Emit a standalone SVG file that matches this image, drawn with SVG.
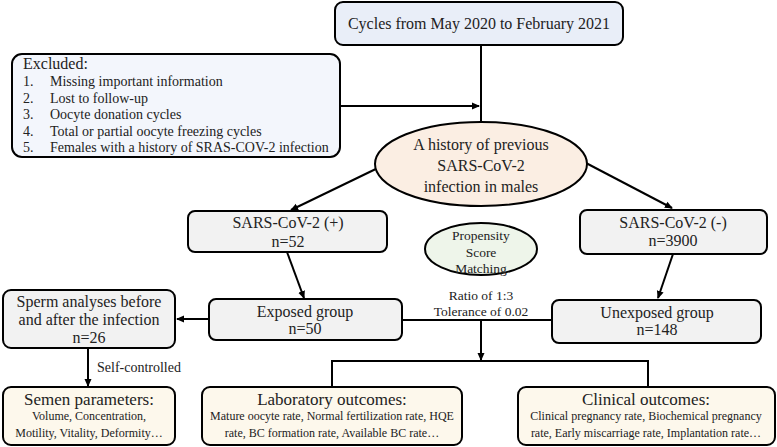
<svg xmlns="http://www.w3.org/2000/svg" width="777" height="447" viewBox="0 0 777 447">
<defs>
<marker id="ah" markerWidth="8" markerHeight="8" refX="7" refY="4" orient="auto" markerUnits="userSpaceOnUse">
<path d="M0,0.5 L8,4 L0,7.5 Z" fill="#000"/>
</marker>
</defs>
<style>
text{fill:#222;}
.c{text-anchor:middle;}
.box{stroke:#000;stroke-width:2;}
.blue{fill:#e9eef8;}
.lblue{fill:#f3f6fc;}
.grey{fill:#f2f2f2;}
.cream{fill:#fdf8ec;}
.f16{font-size:16px;}
.f14{font-size:14px;}
.f13{font-size:13.5px;}
.f12{font-size:12px;}
.f17{font-size:17px;}
.ln{stroke:#000;stroke-width:2;fill:none;}
</style>
<g font-family="'Liberation Serif', 'DejaVu Serif', serif">
<g id="connectors">
<path class="ln" d="M481,45 V122"/>
<path class="ln" d="M340,106 H479" marker-end="url(#ah)"/>
<path class="ln" d="M382,166 L291,210" marker-end="url(#ah)"/>
<path class="ln" d="M586,163 L672,208" marker-end="url(#ah)"/>
<path class="ln" d="M287,252 L304,298" marker-end="url(#ah)"/>
<path class="ln" d="M673,254 L658,298" marker-end="url(#ah)"/>
<path class="ln" d="M402,320 H552"/>
<path class="ln" d="M209,319 H177" marker-end="url(#ah)"/>
<path class="ln" d="M481,320 V360" marker-end="url(#ah)"/>
<path class="ln" d="M332,387 V361 H648 V387"/>
<path class="ln" d="M88,348 V386" marker-end="url(#ah)"/>
</g>
<g id="cycles">
<rect class="box blue" x="335" y="2" width="288" height="43" rx="8"/>
<text class="c f16" x="479" y="29">Cycles from May 2020 to February 2021</text>
</g>
<g id="excluded">
<rect class="box lblue" x="12" y="54" width="328" height="103" rx="10"/>
<text class="f16" x="23" y="69">Excluded:</text>
<text class="f14" x="23" y="86">1.</text><text class="f14" x="50" y="86">Missing important information</text>
<text class="f14" x="23" y="102.5">2.</text><text class="f14" x="50" y="102.5">Lost to follow-up</text>
<text class="f14" x="23" y="119">3.</text><text class="f14" x="50" y="119">Oocyte donation cycles</text>
<text class="f14" x="23" y="135.5">4.</text><text class="f14" x="50" y="135.5">Total or partial oocyte freezing cycles</text>
<text class="f14" x="23" y="152">5.</text><text class="f14" x="50" y="152">Females with a history of SRAS-COV-2 infection</text>
</g>
<g id="history">
<ellipse class="box" cx="481" cy="164" rx="106" ry="42" fill="#fbeee3"/>
<text class="c f16" x="481" y="150">A history of previous</text>
<text class="c f16" x="481" y="171">SARS-CoV-2</text>
<text class="c f16" x="481" y="192">infection in males</text>
</g>
<g id="positive">
<rect class="box grey" x="188" y="211" width="199" height="41" rx="7"/>
<text class="c f16" x="288" y="228">SARS-CoV-2 (+)</text>
<text class="c f16" x="288" y="247">n=52</text>
</g>
<g id="negative">
<rect class="box grey" x="580" y="210" width="187" height="44" rx="7"/>
<text class="c f16" x="673" y="228">SARS-CoV-2 (-)</text>
<text class="c f16" x="673" y="246">n=3900</text>
</g>
<g id="psm">
<ellipse class="box" cx="481" cy="249" rx="56" ry="26" fill="#eef5ea"/>
<text class="c f13" x="481" y="240">Propensity</text>
<text class="c f13" x="481" y="257">Score</text>
<text class="c f13" x="481" y="273">Matching</text>
<text class="c f13" x="481" y="300">Ratio of 1:3</text>
<text class="c f13" x="481" y="316">Tolerance of 0.02</text>
</g>
<g id="exposed">
<rect class="box grey" x="209" y="299" width="193" height="41" rx="7"/>
<text class="c f16" x="305" y="317">Exposed group</text>
<text class="c f16" x="305" y="334">n=50</text>
</g>
<g id="unexposed">
<rect class="box grey" x="552" y="300" width="209" height="43" rx="7"/>
<text class="c f16" x="657" y="318">Unexposed group</text>
<text class="c f16" x="657" y="335">n=148</text>
</g>
<g id="sperm">
<rect class="box grey" x="3" y="290" width="172" height="58" rx="8"/>
<text class="c f16" x="89" y="307">Sperm analyses before</text>
<text class="c f16" x="89" y="325">and after the infection</text>
<text class="c f16" x="89" y="343">n=26</text>
<text class="f14" x="97" y="372">Self-controlled</text>
</g>
<g id="semen">
<rect class="box cream" x="3" y="387" width="172" height="58" rx="8"/>
<text class="c f17" x="89" y="405">Semen parameters:</text>
<text class="c f12" x="89" y="420">Volume, Concentration,</text>
<text class="c f12" x="89" y="437">Motility, Vitality, Deformity…</text>
</g>
<g id="laboratory">
<rect class="box cream" x="202" y="387" width="260" height="58" rx="8"/>
<text class="c f17" x="332" y="405">Laboratory outcomes:</text>
<text class="c f12" x="332" y="420">Mature oocyte rate, Normal fertilization rate, HQE</text>
<text class="c f12" x="332" y="437">rate, BC formation rate, Available BC rate…</text>
</g>
<g id="clinical">
<rect class="box cream" x="518" y="387" width="257" height="58" rx="8"/>
<text class="c f17" x="646" y="405">Clinical outcomes:</text>
<text class="c f12" x="646" y="420">Clinical pregnancy rate, Biochemical pregnancy</text>
<text class="c f12" x="646" y="437">rate, Early miscarriage rate, Implantation rate…</text>
</g>
</g>
</svg>
